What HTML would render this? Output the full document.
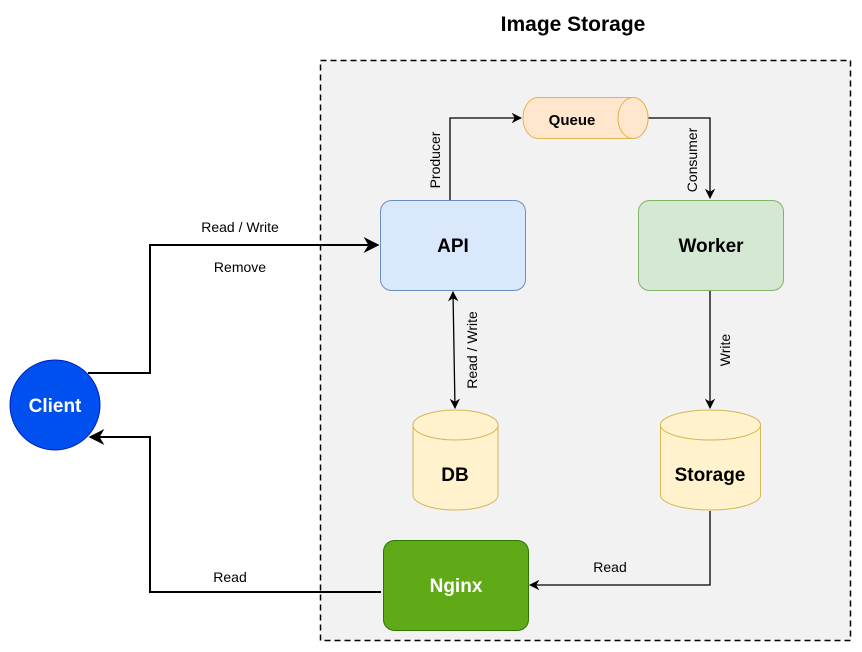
<!DOCTYPE html>
<html><head><style>body{margin:0;background:#fff}svg{display:block}text{font-family:"Liberation Sans",Arial,sans-serif}</style></head><body>
<svg width="862" height="652" viewBox="0 0 862 652" xmlns="http://www.w3.org/2000/svg">
<defs><marker id="a" viewBox="0 0 10 10" refX="9" refY="5" markerWidth="8" markerHeight="8" orient="auto-start-reverse"><path d="M0,0 L10,5 L0,10 L3,5 z" fill="#000"/></marker></defs>
<text x="573" y="31" font-size="21" font-weight="bold" text-anchor="middle">Image Storage</text>
<rect x="320.5" y="60.5" width="530" height="580" fill="#f2f2f2" stroke="#000" stroke-width="1.5" stroke-dasharray="6 4"/>
<g fill="none" stroke="#000" stroke-width="1.3">
<path d="M88,373 H150 V245 H378" stroke-width="2" marker-end="url(#a)"/>
<path d="M381,592 H150 V437 H90" stroke-width="2" marker-end="url(#a)"/>
<path d="M450,200 V118 H521" marker-end="url(#a)"/>
<path d="M648,118 H710 V198" marker-end="url(#a)"/>
<path d="M453,292 L455,408" marker-start="url(#a)" marker-end="url(#a)"/>
<path d="M710,291 V408" marker-end="url(#a)"/>
<path d="M710,511 V585 H530" marker-end="url(#a)"/>
</g>
<rect x="380.5" y="200.5" width="145" height="90" rx="11" fill="#dae8fc" stroke="#6c8ebf"/>
<text x="453" y="252" font-size="19" font-weight="bold" text-anchor="middle">API</text>
<rect x="638.5" y="200.5" width="145" height="90" rx="11" fill="#d5e8d4" stroke="#82b366"/>
<text x="711" y="252" font-size="19" font-weight="bold" text-anchor="middle">Worker</text>
<path d="M538,97.5 H633 A15,20.5 0 0 1 633,138.5 H538 A15,20.5 0 0 1 538,97.5 z" fill="#ffe6cc" stroke="#e0b450"/>
<ellipse cx="633" cy="118" rx="15" ry="20.5" fill="#ffe6cc" stroke="#e0b450"/>
<text x="572" y="125" font-size="15" font-weight="bold" text-anchor="middle">Queue</text>
<path d="M413,425 V495 A42.5,15 0 0 0 498,495 V425" fill="#fff2cc" stroke="#d6b656"/>
<ellipse cx="455.5" cy="425" rx="42.5" ry="15" fill="#fff2cc" stroke="#d6b656"/>
<text x="455" y="481" font-size="19" font-weight="bold" text-anchor="middle">DB</text>
<path d="M660.5,425 V495 A50,15 0 0 0 760.5,495 V425" fill="#fff2cc" stroke="#d6b656"/>
<ellipse cx="710.5" cy="425" rx="50" ry="15" fill="#fff2cc" stroke="#d6b656"/>
<text x="710" y="481" font-size="19" font-weight="bold" text-anchor="middle">Storage</text>
<rect x="383.5" y="540.5" width="145" height="90" rx="11" fill="#60a917" stroke="#2d7600"/>
<text x="456" y="592" font-size="19" font-weight="bold" fill="#fff" text-anchor="middle">Nginx</text>
<circle cx="55" cy="405" r="45" fill="#0050ef" stroke="#001dbc"/>
<text x="55" y="412" font-size="19" font-weight="bold" fill="#fff" text-anchor="middle">Client</text>
<g font-size="14" fill="#000">
<text x="240" y="232" text-anchor="middle">Read / Write</text>
<text x="240" y="272" text-anchor="middle">Remove</text>
<text x="230" y="582" text-anchor="middle">Read</text>
<text x="610" y="572" text-anchor="middle">Read</text>
<text transform="translate(440,160) rotate(-90)" text-anchor="middle">Producer</text>
<text transform="translate(697,160) rotate(-90)" text-anchor="middle">Consumer</text>
<text transform="translate(477,350) rotate(-90)" text-anchor="middle">Read / Write</text>
<text transform="translate(730,350) rotate(-90)" text-anchor="middle">Write</text>
</g>
</svg>
</body></html>
